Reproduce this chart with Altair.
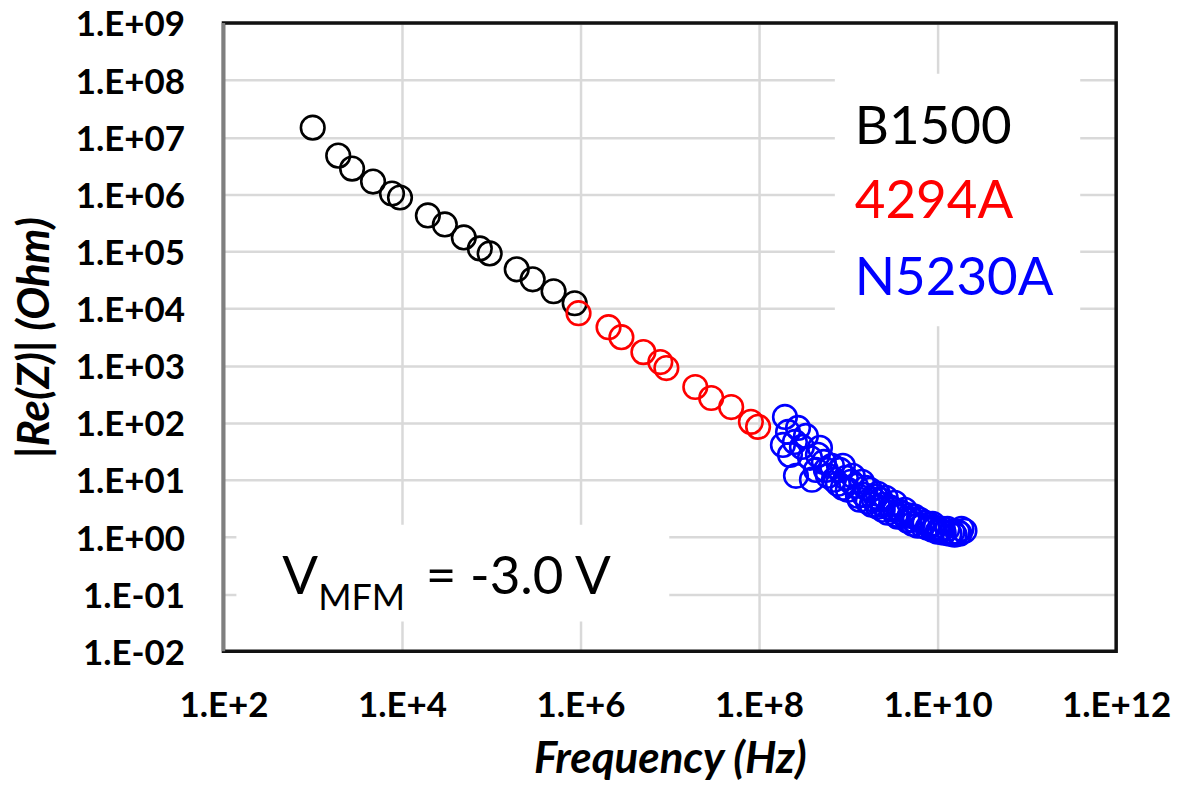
import altair as alt
import pandas as pd

# ---- data ----
b1500_freq = [1.0e3, 1.93e3, 2.76e3, 4.74e3, 7.73e3, 9.5e3, 1.95e4, 3.02e4, 4.93e4, 7.45e4,
              9.6e4, 1.93e5, 2.91e5, 4.99e5, 8.6e5]
b1500_rez = [1.47e7, 4.76e6, 2.82e6, 1.67e6, 1.03e6, 8.8e5, 4.27e5, 2.97e5, 1.76e5, 1.13e5,
             9.25e4, 4.87e4, 3.25e4, 2.01e4, 1.24e4]

a4294_freq = [9.5e5, 2.06e6, 2.87e6, 5.06e6, 7.83e6, 9.15e6, 1.93e7, 2.91e7, 4.87e7, 8.1e7, 9.75e7]
a4294_rez = [8.3e3, 4.72e3, 3.16e3, 1.73e3, 1.16e3, 9.1e2, 4.24e2, 2.72e2, 1.89e2, 1.04e2, 8.5e1]

n5230_freq = [1.95e8, 2.73e8, 2.11e8, 2.52e8, 3.35e8, 3.02e8, 1.85e8, 2.22e8, 2.59e8, 3.91e8,
              3.72e8, 4.56e8, 4.81e8, 4.34e8, 5.32e8, 5.90e8, 6.55e8, 7.64e8, 8.04e8, 8.69e8,
              9.38e8, 9.87e8, 1.12e9, 1.21e9, 1.28e9, 1.42e9, 1.49e9, 1.65e9, 1.74e9, 1.93e9,
              2.14e9, 2.14e9, 2.43e9, 2.62e9, 2.76e9, 2.99e9, 3.31e9, 3.57e9, 3.76e9, 4.28e9,
              4.62e9, 4.86e9, 5.53e9, 5.98e9, 6.29e9, 7.16e9, 7.73e9, 8.15e9, 8.79e9, 9.26e9,
              1.00e10, 1.05e10, 1.17e10, 1.29e10, 1.36e10, 1.47e10, 1.67e10, 1.85e10, 2.00e10,
              1.07e9, 1.57e9, 2.03e9, 2.31e9, 3.14e9, 4.06e9, 5.26e9, 6.80e9, 1.14e10, 1.55e10,
              1.76e10, 8.79e9, 5.26e9, 3.40e9, 2.43e9, 1.83e9, 1.34e9, 8.69e8, 6.89e8, 5.61e8]
n5230_rez = [127, 81.5, 69.3, 46.3, 59.0, 37.9, 41.1, 27.5, 11.8, 10.1,
             24.4, 27.5, 36.5, 15.0, 20.7, 11.8, 17.7, 8.57, 15.0, 17.7,
             10.9, 6.73, 11.8, 7.91, 5.28, 9.29, 5.51, 4.16, 6.73, 4.50,
             5.73, 3.40, 3.68, 4.88, 2.67, 3.27, 3.99, 2.28, 2.78, 3.01,
             1.94, 2.37, 2.28, 1.58, 2.01, 1.79, 1.46, 1.65, 1.71, 1.46,
             1.24, 1.35, 1.19, 1.40, 1.15, 1.24, 1.24, 1.40, 1.29,
             9.29, 7.30, 5.08, 4.50, 3.01, 2.57, 2.01, 1.58, 1.40, 1.10,
             1.15, 1.35, 1.71, 2.47, 3.01, 3.68, 4.50, 7.30, 10.1, 15.0]

series_names = ["B1500", "4294A", "N5230A"]
series_colors = ["#000000", "#ff0000", "#0000ff"]

x_ticks = [1e2, 1e4, 1e6, 1e8, 1e10, 1e12]
y_ticks = [1e-2, 1e-1, 1e0, 1e1, 1e2, 1e3, 1e4, 1e5, 1e6, 1e7, 1e8, 1e9]

# annotation positions (data coordinates)
legend_x = [1.18e9, 1.18e9, 1.18e9]
legend_y = [7.71e6, 3.78e5, 1.71e4]
box_f = [7.06e8, 139.7]
box_f2 = [3.96e11, 9.87e6]
box_r = [1.285e8, 1.65]
box_r2 = [4.92e3, 0.0334]
vtext_f = [456.0]
vtext_r = [0.1028]
sub_f = [1.15e3]
sub_r = [0.0519]
eq_f = [1.85e4]
eq_r = [0.1028]

# ---- tables ----
pts = pd.DataFrame({
    "f": b1500_freq + a4294_freq + n5230_freq,
    "r": b1500_rez + a4294_rez + n5230_rez,
    "inst": ["B1500"] * len(b1500_freq) + ["4294A"] * len(a4294_freq) + ["N5230A"] * len(n5230_freq),
})
pts["order"] = range(len(pts))
leg = pd.DataFrame({"f": legend_x, "r": legend_y, "inst": series_names})
boxes = pd.DataFrame({"f": box_f, "f2": box_f2, "r": box_r, "r2": box_r2})
one = pd.DataFrame({"k": [0]})

xs = alt.Scale(type="log", domain=[1e2, 1e12], nice=False)
ys = alt.Scale(type="log", domain=[1e-2, 1e9], nice=False)
FONT = "Lato"

xax = alt.Axis(
    values=x_ticks,
    labelExpr="'1.E+' + round(log(datum.value)/LN10)",
    title="Frequency (Hz)", titleFont=FONT, titleFontSize=44, titleFontWeight="bold",
    titleFontStyle="italic", titleColor="#000000", titleY=121, titleBaseline="alphabetic",
    labelFont=FONT, labelFontSize=35, labelFontWeight="bold", labelColor="#000000",
    labelPadding=37, ticks=False, tickSize=0, domain=False, grid=True,
    gridColor="#d9d9d9", gridWidth=2.5, labelFlush=False, labelOverlap=False,
)
yax = alt.Axis(
    values=y_ticks,
    labelExpr="'1.E' + (datum.value >= 1 ? '+' : '-') + (abs(round(log(datum.value)/LN10)) < 10 ? '0' : '') + abs(round(log(datum.value)/LN10))",
    title="|Re(Z)| (Ohm)", titleFont=FONT, titleFontSize=44, titleFontWeight="bold",
    titleFontStyle="italic", titleColor="#000000", titleX=-188, titleY=315,
    titleBaseline="middle", titleAlign="center", titleAngle=270,
    labelFont=FONT, labelFontSize=35, labelFontWeight="bold", labelColor="#000000",
    labelBaseline="alphabetic", labelOffset=13,
    labelPadding=39, ticks=False, tickSize=0, domain=False, grid=True,
    gridColor="#d9d9d9", gridWidth=2.5, labelFlush=False, labelOverlap=False,
)

X = alt.X("f:Q", scale=xs, axis=xax)
Y = alt.Y("r:Q", scale=ys, axis=yax)
cscale = alt.Scale(domain=series_names, range=series_colors)

box_layer = alt.Chart(boxes).mark_rect(color="#ffffff").encode(
    x=X, x2="f2:Q", y=Y, y2="r2:Q")

point_layer = alt.Chart(pts).mark_point(
    shape="circle", filled=False, size=560, strokeWidth=2.6, opacity=1
).encode(
    x=X, y=Y,
    color=alt.Color("inst:N", scale=cscale, legend=None),
    order=alt.Order("order:Q"),
)

legend_layer = alt.Chart(leg).mark_text(
    font=FONT, fontSize=53, align="left", baseline="alphabetic"
).encode(x=X, y=Y, text="inst:N", color=alt.Color("inst:N", scale=cscale, legend=None))

v_layer = alt.Chart(pd.DataFrame({"f": vtext_f, "r": vtext_r, "t": ["V"]})).mark_text(
    font=FONT, fontSize=53, align="left", baseline="alphabetic", color="#000000"
).encode(x=X, y=Y, text="t:N")
sub_layer = alt.Chart(pd.DataFrame({"f": sub_f, "r": sub_r, "t": ["MFM"]})).mark_text(
    font=FONT, fontSize=36, align="left", baseline="alphabetic", color="#000000"
).encode(x=X, y=Y, text="t:N")
eq_layer = alt.Chart(pd.DataFrame({"f": eq_f, "r": eq_r, "t": ["= -3.0 V"]})).mark_text(
    font=FONT, fontSize=53, align="left", baseline="alphabetic", color="#000000"
).encode(x=X, y=Y, text="t:N")

frame = alt.Chart(one).mark_rect(fillOpacity=0, stroke="#111111", strokeWidth=3.5).encode(
    x=alt.value(0), x2=alt.value(895), y=alt.value(0), y2=alt.value(630))
left_line = alt.Chart(one).mark_rule(color="#7f7f7f", strokeWidth=3.5).encode(
    x=alt.value(0), y=alt.value(0), y2=alt.value(630))

chart = alt.layer(
    box_layer, point_layer, legend_layer, v_layer, sub_layer, eq_layer, frame, left_line
).properties(
    width=895, height=630, autosize="none",
    padding={"left": 216, "top": 14, "right": 57, "bottom": 130},
).configure_view(stroke=None)

chart.save("out.html", embed_options={"renderer": "svg", "actions": False})
